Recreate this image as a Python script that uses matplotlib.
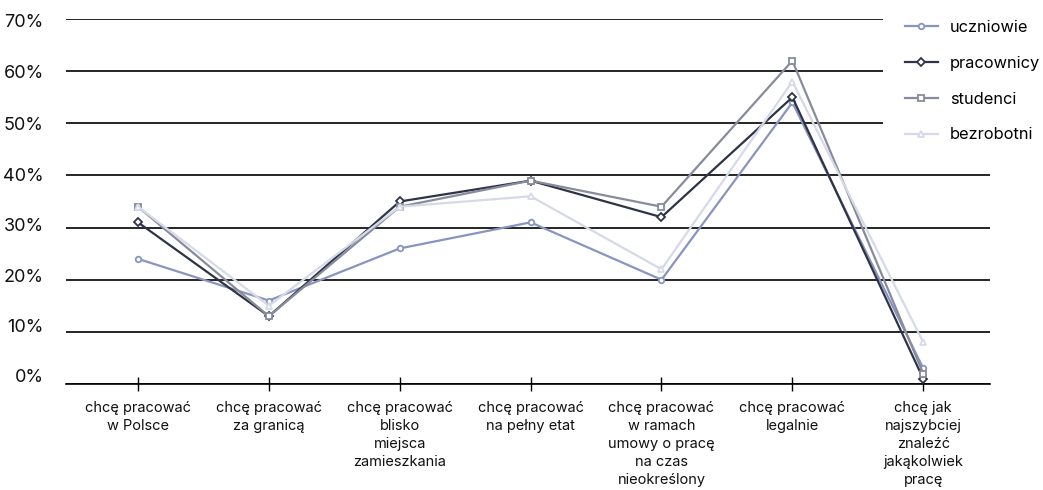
import matplotlib
matplotlib.use("Agg")
import matplotlib.pyplot as plt
from matplotlib.transforms import ScaledTranslation
from matplotlib.patches import Rectangle

categories = [
    "chcę pracować\nw Polsce",
    "chcę pracować\nza granicą",
    "chcę pracować\nblisko\nmiejsca\nzamieszkania",
    "chcę pracować\nna pełny etat",
    "chcę pracować\nw ramach\numowy o pracę\nna czas\nnieokreślony",
    "chcę pracować\nlegalnie",
    "chcę jak\nnajszybciej\nznaleźć\njakąkolwiek\npracę",
]
uczniowie = [24, 16, 26, 31, 20, 54, 3]
pracownicy = [31, 13, 35, 39, 32, 55, 1]
studenci = [34, 13, 34, 39, 34, 62, 2]
bezrobotni = [34, 15, 34, 36, 22, 58, 8]
yticks = [0, 10, 20, 30, 40, 50, 60, 70]
ytick_labels = ["0%", "10%", "20%", "30%", "40%", "50%", "60%", "70%"]

plt.rcParams['font.family'] = ['Inter', 'DejaVu Sans']

fig = plt.figure(figsize=(10.43, 4.9), dpi=100)
ax = fig.add_axes([66/1043, 1-384/490, (990-66)/1043, (384-19)/490])

series = [
    ("uczniowie", uczniowie, "#8795bf", "o"),
    ("pracownicy", pracownicy, "#2e3446", "D"),
    ("studenci", studenci, "#878b9c", "s"),
    ("bezrobotni", bezrobotni, "#d6d9e8", "^"),
]
x = list(range(len(categories)))
for name, vals, col, mk in series:
    ms = 4 if mk != "D" else 3.6
    ax.plot(x, vals, color=col, lw=1.6, marker=mk, ms=ms, mfc="white",
            mec=col, mew=1.3, label=name, zorder=3)

ax.set_xlim(-0.55, 6.51)
ax.set_ylim(0, 70)
ax.set_yticks(yticks)
ax.set_yticklabels(ytick_labels, fontsize=13, color="#111111")
ax.yaxis.grid(True, color="black", lw=1.2, zorder=1)
ax.set_axisbelow(True)
ax.tick_params(axis="y", length=0, pad=16)
# slight vertical shifts of the y labels as in the original
shifts = [8, 6, 4.5, 3, 0.5, 0, 0, -2]
for lab, s in zip(ax.get_yticklabels(), shifts):
    lab.set_transform(lab.get_transform() + ScaledTranslation(0, s/100, fig.dpi_scale_trans))

ax.set_xticks(x)
ax.set_xticklabels(categories, fontsize=10.5, linespacing=1.36, color="#111111")
ax.tick_params(axis="x", direction="inout", length=10, width=1, color="black", pad=7)
for s in ["left", "right", "top"]:
    ax.spines[s].set_visible(False)
ax.spines["bottom"].set_color("black")
ax.spines["bottom"].set_linewidth(1.2)

# white area behind the legend (hides the gridlines there)
fig.add_artist(Rectangle((883/1043, 1-150/490), 1-883/1043, 150/490,
                         transform=fig.transFigure, facecolor="white",
                         edgecolor="none", zorder=5))

leg = fig.legend(loc="upper left", bbox_to_anchor=(905/1043, 1-20/490), frameon=False,
                 fontsize=11.8, labelspacing=1.27, handlelength=2.0, handletextpad=0.75,
                 borderaxespad=0, borderpad=0)
leg.set_zorder(6)
fig.savefig("out.png", dpi=100)
